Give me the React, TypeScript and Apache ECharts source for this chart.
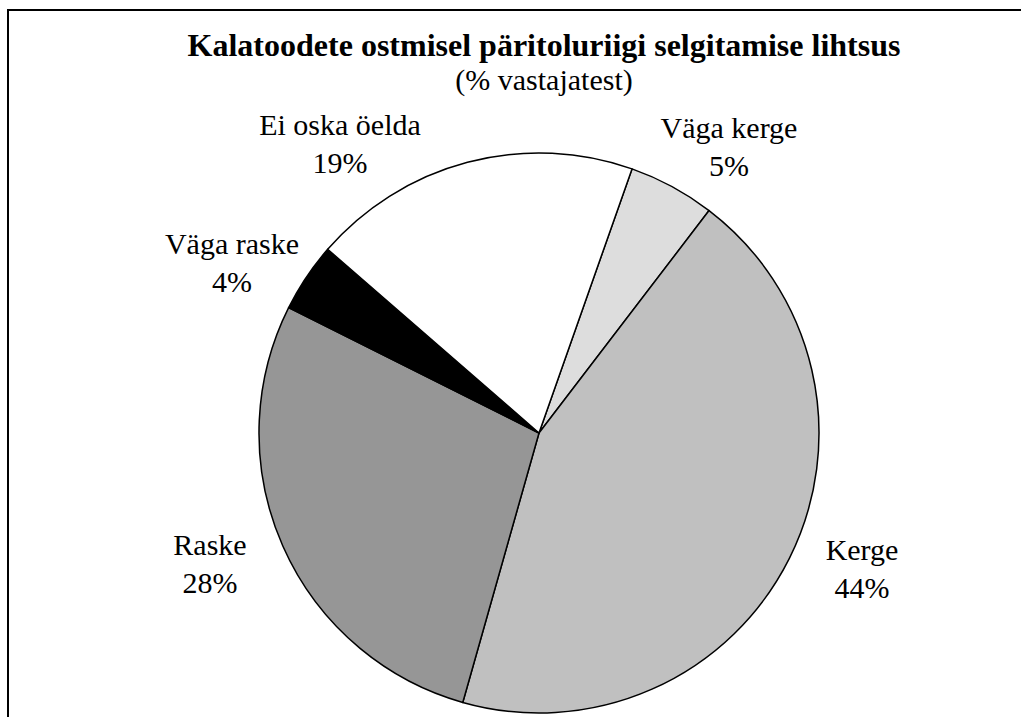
import React, { useEffect, useRef } from "react";
import * as echarts from "echarts";

const categories = ["Väga kerge", "Kerge", "Raske", "Väga raske", "Ei oska öelda"];
const values = [5, 44, 28, 4, 19];
const colors = ["#dddddd", "#c0c0c0", "#969696", "#000000", "#ffffff"];

const titleText = "Kalatoodete ostmisel päritoluriigi selgitamise lihtsus";
const subtitleText = "(% vastajatest)";

const labelPos: Record<string, [number, number]> = {
  "Väga kerge": [729, 146],
  "Kerge": [862, 568],
  "Raske": [210, 563],
  "Väga raske": [232, 262],
  "Ei oska öelda": [340, 143],
};

const FONT = "Liberation Serif";

export default function App() {
  const ref = useRef<HTMLDivElement>(null);
  useEffect(() => {
    if (!ref.current) return;
    const chart = echarts.init(ref.current, null, { renderer: "svg" });
    chart.setOption({
      animation: false,
      backgroundColor: "#ffffff",
      textStyle: { fontFamily: FONT },
      title: [
        {
          text: titleText,
          left: 539,
          top: 24,
          textAlign: "center",
          textStyle: { fontFamily: FONT, fontSize: 32, fontWeight: "bold", color: "#000" },
        },
        {
          text: subtitleText,
          left: 539,
          top: 59,
          textAlign: "center",
          textStyle: { fontFamily: FONT, fontSize: 30, fontWeight: "normal", color: "#000" },
        },
      ],
      graphic: [
        {
          type: "rect",
          shape: { x: 8, y: 10, width: 1100, height: 800 },
          style: { fill: "none", stroke: "#000", lineWidth: 2 },
          silent: true,
          z: 10,
        },
      ],
      series: [
        {
          type: "pie",
          center: [539, 433],
          radius: 280,
          startAngle: 70.6,
          clockwise: true,
          avoidLabelOverlap: false,
          data: categories.map((name, i) => ({
            name,
            value: values[i],
            itemStyle: { color: colors[i] },
          })),
          itemStyle: { borderColor: "#000", borderWidth: 1.5 },
          emphasis: { disabled: true },
          label: {
            show: true,
            position: "outside",
            formatter: "{b}\n{d}%",
            fontFamily: FONT,
            fontSize: 30,
            lineHeight: 38,
            color: "#000",
            align: "center",
          },
          labelLine: { show: false },
          labelLayout: (params: any) => {
            const name = categories[params.dataIndex];
            const p = labelPos[name];
            return { x: p[0], y: p[1], align: "center", verticalAlign: "middle" };
          },
        },
      ],
    });
    return () => chart.dispose();
  }, []);
  return (
    <div
      ref={ref}
      style={{ position: "absolute", left: 0, top: 0, width: 1021, height: 717 }}
    />
  );
}
